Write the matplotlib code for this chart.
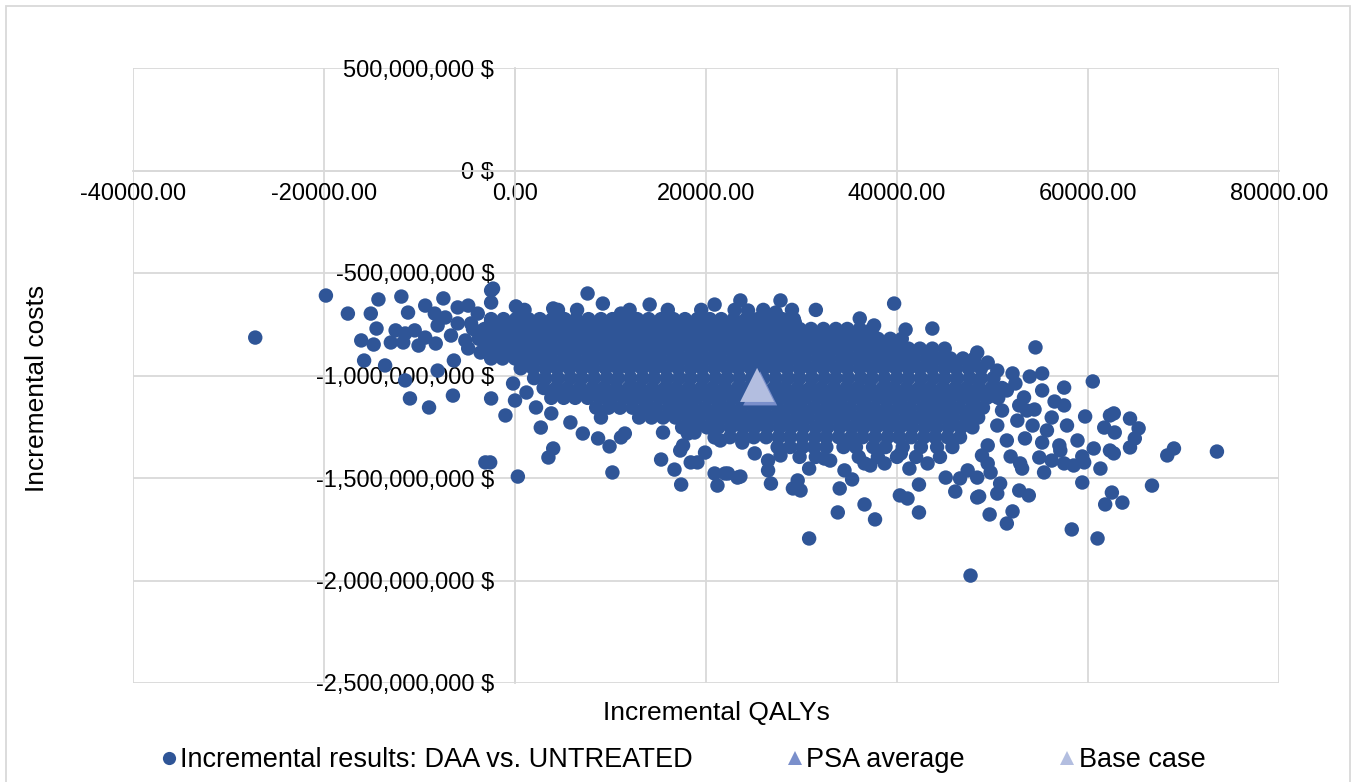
import numpy as np
import matplotlib
matplotlib.use("Agg")
import matplotlib.pyplot as plt
from matplotlib.lines import Line2D
from matplotlib.patches import Rectangle

plt.rcParams['font.family'] = ['Liberation Sans', 'DejaVu Sans']

# ---------------- data (QALYs in thousands, costs in millions $) ----------------
# dense core of the PSA cloud, one list of QALY values per cost level
core_cost_m = [-680, -725, -773, -821, -869, -917, -965, -1013, -1061, -1109,
               -1157, -1205, -1253, -1301, -1349, -1397]
core_qaly_k = [
    [1.0, 4.5, 6.5, 12.0, 16.0, 19.5, 23.0, 26.0, 29.0, 31.5],
    [-2.5, -1.2, 0.1, 1.4, 2.6, 3.9, 5.2, 6.4, 7.7, 9.0, 10.2, 11.5, 12.8, 14.0, 15.3,
     16.6, 17.8, 19.1, 20.4, 21.6, 22.9, 24.2, 25.4, 26.7, 28.0, 29.2],
    [-4.4, -3.2, -1.9, -0.6, 0.6, 1.9, 3.2, 4.4, 5.7, 7.0, 8.2, 9.5, 10.8, 12.0, 13.3,
     14.6, 15.8, 17.1, 18.4, 19.6, 20.9, 22.2, 23.4, 24.7, 26.0, 27.2, 28.5, 29.8, 31.0,
     32.3, 33.6, 34.8, 36.1, 37.4],
    [-3.8, -2.5, -1.3, 0.0, 1.3, 2.5, 3.8, 5.1, 6.3, 7.6, 8.9, 10.1, 11.4, 12.7, 13.9,
     15.2, 16.5, 17.7, 19.0, 20.3, 21.5, 22.8, 24.1, 25.3, 26.6, 27.9, 29.1, 30.4, 31.7,
     32.9, 34.2, 35.5, 36.7, 38.0, 39.3, 40.5],
    [-3.2, -1.9, -0.6, 0.6, 1.9, 3.2, 4.4, 5.7, 7.0, 8.2, 9.5, 10.8, 12.0, 13.3, 14.6,
     15.8, 17.1, 18.4, 19.6, 20.9, 22.2, 23.4, 24.7, 26.0, 27.2, 28.5, 29.8, 31.0, 32.3,
     33.6, 34.8, 36.1, 37.4, 38.6, 39.9, 41.2, 42.4, 43.7, 45.0],
    [-2.5, -1.3, 0.0, 1.3, 2.5, 3.8, 5.1, 6.3, 7.6, 8.9, 10.1, 11.4, 12.7, 13.9, 15.2,
     16.5, 17.7, 19.0, 20.3, 21.5, 22.8, 24.1, 25.3, 26.6, 27.9, 29.1, 30.4, 31.7, 32.9,
     34.2, 35.5, 36.7, 38.0, 39.3, 40.5, 41.8, 43.1, 44.3, 45.6, 46.9, 48.1],
    [0.6, 1.9, 3.2, 4.4, 5.7, 7.0, 8.2, 9.5, 10.8, 12.0, 13.3, 14.6, 15.8, 17.1, 18.4,
     19.6, 20.9, 22.2, 23.4, 24.7, 26.0, 27.2, 28.5, 29.8, 31.0, 32.3, 33.6, 34.8, 36.1,
     37.4, 38.6, 39.9, 41.2, 42.4, 43.7, 45.0, 46.2, 47.5, 48.8],
    [2.0, 3.2, 4.5, 5.8, 7.0, 8.3, 9.6, 10.8, 12.1, 13.4, 14.6, 15.9, 17.2, 18.4, 19.7,
     21.0, 22.2, 23.5, 24.8, 26.0, 27.3, 28.6, 29.8, 31.1, 32.4, 33.6, 34.9, 36.2, 37.4,
     38.7, 40.0, 41.2, 42.5, 43.8, 45.0, 46.3, 47.6, 48.8, 50.1],
    [3.0, 4.3, 5.5, 6.8, 8.1, 9.3, 10.6, 11.9, 13.1, 14.4, 15.7, 16.9, 18.2, 19.5, 20.7,
     22.0, 23.3, 24.5, 25.8, 27.1, 28.3, 29.6, 30.9, 32.1, 33.4, 34.7, 35.9, 37.2, 38.5,
     39.7, 41.0, 42.3, 43.5, 44.8, 46.1, 47.3, 48.6, 49.9, 51.0],
    [3.8, 5.1, 6.3, 7.6, 8.9, 10.1, 11.4, 12.7, 13.9, 15.2, 16.5, 17.7, 19.0, 20.3, 21.5,
     22.8, 24.1, 25.3, 26.6, 27.9, 29.1, 30.4, 31.7, 32.9, 34.2, 35.5, 36.7, 38.0, 39.3,
     40.5, 41.8, 43.1, 44.3, 45.6, 46.9, 48.1, 49.4, 50.6],
    [8.5, 9.8, 11.0, 12.3, 13.6, 14.8, 16.1, 17.4, 18.6, 19.9, 21.2, 22.4, 23.7, 25.0,
     26.2, 27.5, 28.8, 30.0, 31.3, 32.6, 33.8, 35.1, 36.4, 37.6, 38.9, 40.2, 41.4, 42.7,
     44.0, 45.2, 46.5, 47.8, 49.0],
    [13.0, 14.3, 15.5, 16.8, 18.1, 19.3, 20.6, 21.9, 23.1, 24.4, 25.7, 26.9, 28.2, 29.5,
     30.7, 32.0, 33.3, 34.5, 35.8, 37.1, 38.3, 39.6, 40.9, 42.1, 43.4, 44.7, 45.9, 47.2,
     48.5],
    [17.5, 18.8, 20.1, 21.3, 22.6, 23.9, 25.1, 26.4, 27.7, 28.9, 30.2, 31.5, 32.7, 34.0,
     35.3, 36.5, 37.8, 39.1, 40.3, 41.6, 42.9, 44.1, 45.4, 46.7, 47.9],
    [22.5, 23.8, 25.0, 26.3, 27.6, 28.8, 30.1, 31.4, 32.6, 33.9, 35.2, 36.4, 37.7, 39.0,
     40.2, 41.5, 42.8, 44.0, 45.3, 46.6],
    [27.5, 28.8, 30.1, 31.3, 32.6, 34.4, 35.7, 37.5, 38.8, 40.6, 42.5, 44.2, 45.8],
    [29.8, 31.5, 36.0, 38.0, 40.0, 42.0, 44.5],
]

# scattered iterations around the core
outer_qaly_k = [
    -27.2, -19.8, -17.5, -14.3, -15.1, -14.5, -16.1, -14.8, -15.8, -13.6, -11.5, -11.0,
    -9.0, -8.1, -6.5, -6.4, -3.1, -2.6, -2.5, -11.9, -11.2, -9.4, -7.5, -8.4, -6.0, -4.9,
    -3.9, -2.5, -2.5, -12.5, -11.5, -10.5, -9.4, -8.1, -6.7, -13.0, -11.7, -10.1, -8.3,
    -5.2, -4.9, -3.6, -2.5, -3.1, -4.6, -6.0, -7.3, -2.5,
    -2.3, 7.6, 9.2, 4.0, 0.1, 14.1, 20.9, 11.1, 2.2, -0.2, 1.2, 0.0, -1.0, 2.7, 2.2, 3.8,
    5.8, 7.1, 9.0, 8.7, 9.9, 11.1, 11.5, 4.0, 3.5, 0.3, 10.2, 15.3, 16.7, 17.4, 17.3,
    17.6, 18.4, 19.1, 19.9, 20.9, 21.2, 22.0, 15.5, 18.1, 18.8, 18.4, 20.9, 21.5, 23.3,
    23.6, 27.8, 24.4, 27.3, 39.7, 36.1, 37.6, 40.9, 43.7, 29.3, 32.0, 23.8, 25.1, 26.5,
    26.5, 23.6, 22.3, 26.8, 29.1, 29.9, 29.6, 30.8, 34.0, 33.8, 30.8, 35.3, 36.6, 37.7,
    36.6, 37.2, 38.7, 40.4, 40.3, 41.1, 42.3, 42.3, 41.3, 45.1, 46.1, 46.6, 47.7, 48.4,
    43.2, 32.4, 33.0, 34.5, 27.8,
    54.5, 48.4, 49.5, 52.1, 53.9, 55.2, 60.5, 57.5, 52.4, 53.3, 56.5, 57.5, 52.8, 54.4,
    56.2, 59.7, 62.3, 62.7, 61.7, 62.8, 64.4, 65.3, 64.9, 64.4, 55.2, 57.0, 57.1, 53.4,
    54.9, 60.6, 59.4, 62.3, 62.7, 68.3, 69.0, 73.5, 56.2, 57.5, 58.5, 59.6, 61.3, 55.4,
    52.9, 53.1, 51.9, 49.5, 49.8, 48.4, 47.4, 59.4, 66.7, 62.5, 63.6, 61.8, 50.8, 50.5,
    52.8, 53.8, 48.6, 52.1, 49.7, 51.5, 58.3, 61.0,
    50.5, 51.5, 50.0, 51.0, 52.6, 50.5, 54.2, 51.5, 49.5, 55.2, 53.6, 55.7, 48.9, 57.8,
    58.9,
]
outer_cost_m = [
    -815, -610, -698, -629, -698, -771, -829, -849, -927, -951, -1024, -1112,
    -1156, -976, -1098, -927, -1424, -1424, -1112, -615, -693, -659, -624, -698, -668, -659,
    -698, -585, -644, -780, -795, -780, -815, -756, -805, -839, -839, -854, -844,
    -829, -868, -888, -893, -815, -746, -746, -717, -732,
    -576, -600, -649, -673, -663, -654, -654, -698, -746, -1039, -1083, -1122, -1195, -1254, -1156, -1185,
    -1229, -1283, -1205, -1307, -1346, -1302, -1283, -1356, -1400, -1493, -1473, -1410, -1459, -1532, -1366,
    -1341, -1424, -1424, -1376, -1478, -1537, -1478, -1278, -1283, -1278, -1205, -1302, -1317, -1498,
    -634, -634, -683, -693, -649, -722, -756, -776, -771, -741, -795, -1327, -1380, -1415,
    -1463, -1493, -1478, -1527, -1551, -1561, -1512, -1454, -1551, -1668, -1795, -1507, -1629, -1702,
    -1429, -1439, -1429, -1380, -1585, -1600, -1532, -1668, -1454, -1498, -1566, -1502, -1976, -1595,
    -1429, -1405, -1415, -1463, -1390,
    -863, -888, -937, -990, -1005, -990, -1029, -1059, -1039, -1107, -1127, -1146, -1146, -1166,
    -1205, -1200, -1195, -1185, -1254, -1278, -1210, -1258, -1307, -1351, -1327, -1341, -1366, -1307,
    -1400, -1356, -1395, -1366, -1380, -1390, -1356, -1371, -1415, -1429, -1439, -1424, -1454, -1473,
    -1429, -1454, -1395, -1429, -1473, -1498, -1463, -1522, -1537, -1571, -1620, -1629, -1527, -1576,
    -1561, -1585, -1590, -1663, -1678, -1722, -1751, -1795,
    -976, -1073, -1098, -1171, -1220, -1244, -1244, -1317, -1341, -1073, -1171, -1268, -1390, -1244,
    -1317,
]

psa_average = (25.67, -1063)   # (QALYs thousands, costs millions)
base_case = (25.35, -1046)

series_labels = ["Incremental results: DAA vs. UNTREATED", "PSA average", "Base case"]
x_ticks = [-40000, -20000, 0, 20000, 40000, 60000, 80000]
y_ticks = [500e6, 0, -500e6, -1000e6, -1500e6, -2000e6, -2500e6]

# ---------------- assemble ----------------
qx, cy = [], []
for c, row in zip(core_cost_m, core_qaly_k):
    qx.extend(row)
    cy.extend([c] * len(row))
qx.extend(outer_qaly_k)
cy.extend(outer_cost_m)
qaly = np.array(qx) * 1000.0
cost = np.array(cy) * 1e6

dot_color = '#2F5597'
psa_color = '#7A8FCB'
base_color = '#B3BEE0'
grid_color = '#D9D9D9'

fig = plt.figure(figsize=(13.57, 7.82), dpi=100)
W, H = 1357, 782
ax = fig.add_axes([133 / W, 1 - 683 / H, (1279 - 133) / W, (683 - 68) / H])
ax.set_xlim(-40000, 80000)
ax.set_ylim(-2.5e9, 5e8)

ax.scatter(qaly, cost, s=108, color=dot_color, edgecolors='none', zorder=3)
ax.scatter([psa_average[0] * 1000], [psa_average[1] * 1e6], marker='^', s=600,
           color=psa_color, edgecolors='none', zorder=4)
ax.scatter([base_case[0] * 1000], [base_case[1] * 1e6], marker='^', s=600,
           color=base_color, edgecolors='none', zorder=5)

ax.set_xticks(x_ticks)
ax.set_xticklabels([f"{v:.2f}" for v in x_ticks])
ax.set_yticks(y_ticks)
ax.set_yticklabels([f"{v:,.0f} $" for v in y_ticks])
ax.grid(True, color=grid_color, linewidth=1.3)
ax.set_axisbelow(True)
for s in ['top', 'right']:
    ax.spines[s].set_visible(False)
ax.spines['left'].set_position(('data', 0))
ax.spines['bottom'].set_position(('data', 0))
for s in ['left', 'bottom']:
    ax.spines[s].set_color(grid_color)
    ax.spines[s].set_linewidth(1.3)
    ax.spines[s].set_zorder(0.6)
ax.tick_params(axis='both', length=0, labelsize=17, colors='black')
ax.tick_params(axis='y', pad=15)
ax.tick_params(axis='x', pad=9)
ax.patch.set_visible(False)

fig.text(716 / W, 1 - 713 / H, "Incremental QALYs", ha='center', va='center', fontsize=19)
fig.text(37 / W, 1 - 388 / H, "Incremental costs", ha='center', va='center',
         rotation=90, fontsize=19)

handles = [
    Line2D([], [], linestyle='none', marker='o', markersize=9.5, color=dot_color, markeredgewidth=0),
    Line2D([], [], linestyle='none', marker='^', markersize=10, color=psa_color, markeredgewidth=0),
    Line2D([], [], linestyle='none', marker='^', markersize=10, color=base_color, markeredgewidth=0),
]
fig.legend(handles, series_labels, loc='center', bbox_to_anchor=(684 / W, 1 - 760 / H),
           ncol=3, frameon=False, fontsize=19.5, columnspacing=3.55, handlelength=0.45,
           handletextpad=0.2)

fig.patches.append(Rectangle((6 / W, -0.1), (1350 - 6) / W, 1 - 6 / H + 0.1,
                             transform=fig.transFigure, fill=False, edgecolor=grid_color,
                             linewidth=1.3))

fig.savefig("out.png", dpi=100)
